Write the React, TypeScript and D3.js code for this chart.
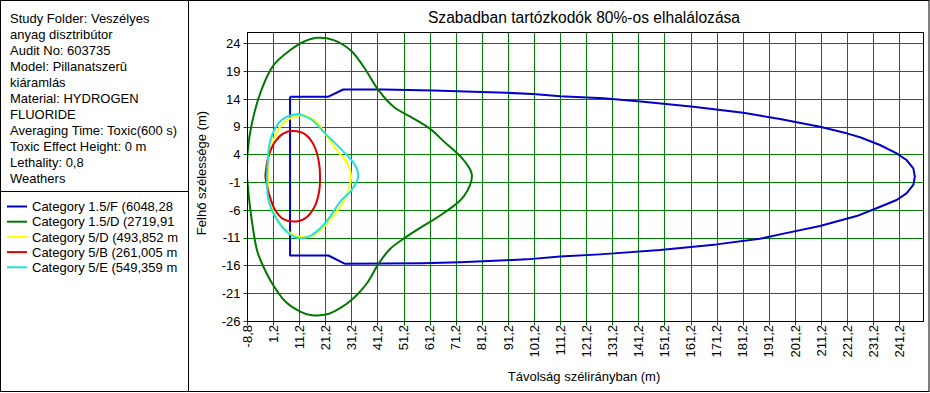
import React, { useEffect } from 'react'
import * as d3 from 'd3'

// info panel text (as shown in the picture)
const infoLines = [
  'Study Folder: Veszélyes',
  'anyag disztribútor',
  'Audit No: 603735',
  'Model: Pillanatszerû',
  'kiáramlás',
  'Material: HYDROGEN',
  'FLUORIDE',
  'Averaging Time: Toxic(600 s)',
  'Toxic Effect Height: 0 m',
  'Lethality: 0,8',
  'Weathers',
]

const categories = [
  'Category 1.5/F (6048,28',
  'Category 1.5/D (2719,91',
  'Category 5/D (493,852 m',
  'Category 5/B (261,005 m',
  'Category 5/E (549,359 m',
]
const colors = ['#0000c8', '#007800', '#ffff00', '#e00000', '#20e0e0']

const xTicks = [-8.8, 1.2, 11.2, 21.2, 31.2, 41.2, 51.2, 61.2, 71.2, 81.2, 91.2, 101.2, 111.2, 121.2,
  131.2, 141.2, 151.2, 161.2, 171.2, 181.2, 191.2, 201.2, 211.2, 221.2, 231.2, 241.2]
const yTicks = [24, 19, 14, 9, 4, -1, -6, -11, -16, -21, -26]

// footprint outlines, [downwind distance, crosswind width]
const cat15F: [number, number][] = [
  [7.7, 14.4], [22.4, 14.4], [28.1, 15.7], [43.5, 15.7], [62.6, 15.5], [78.0, 15.3], [90.7, 15.1],
  [100.9, 14.9], [111.2, 14.5], [127.8, 14.1], [143.1, 13.5], [162.3, 12.6], [181.4, 11.5],
  [195.5, 10.4], [210.8, 9.0], [221.1, 7.8], [226.2, 7.1], [233.8, 5.7], [240.2, 4.2], [244.0, 3.0],
  [246.6, 1.5], [247.2, 0.0], [246.6, -1.5], [244.0, -3.0], [240.2, -4.2], [232.5, -5.7],
  [224.9, -7.1], [210.8, -8.9], [195.5, -10.4], [187.8, -11.2], [171.2, -12.2], [149.5, -13.2],
  [126.5, -14.0], [111.2, -14.4], [98.4, -14.9], [88.2, -15.1], [72.8, -15.4], [58.2, -15.6],
  [28.8, -15.7], [22.4, -14.2], [7.7, -14.2], [7.7, 14.4],
]
const cat15D: [number, number][] = [
  [-8.8, 0], [-8.6, 4.2], [-7.2, 9.0], [-3.3, 15.6], [1.4, 20.1], [7.8, 22.8], [12.9, 24.3],
  [18.0, 25.0], [24.4, 24.6], [30.8, 22.8], [35.9, 19.8], [41.6, 15.6], [47.4, 12.6], [53.8, 10.8],
  [61.4, 8.6], [66.5, 6.4], [74.2, 3.0], [77.4, 0.3], [74.2, -3.6], [66.5, -6.6], [56.3, -9.6],
  [50.5, -11.4], [46.1, -13.0], [41.6, -15.7], [37.2, -19.2], [32.0, -21.9], [26.9, -23.7],
  [21.9, -24.8], [15.5, -24.9], [11.6, -24.3], [5.9, -22.5], [0.8, -19.2], [-3.1, -15.6],
  [-5.0, -13.2], [-7.5, -6.0], [-8.8, 0],
]
const cat5D: [number, number][] = [
  [12.8, 11.1], [17.5, 10.0], [21.5, 7.5], [25.5, 4.8], [29.5, 2.5], [31.1, 0], [30.0, -2.5],
  [27.5, -5.0], [23.5, -7.5], [18.5, -10.0], [14.0, -10.9], [9.0, -10.5], [4.5, -8.8], [1.2, -6.2],
  [-0.4, -3.2], [-0.8, 0], [-0.3, 3.5], [1.5, 6.8], [4.5, 9.3], [8.5, 10.7], [12.8, 11.1],
]
const cat5B: [number, number][] = [
  [-1.8, 0], [-0.6, 3.6], [2.0, 6.3], [5.2, 7.8], [9.0, 8.2], [13.5, 7.6], [17.0, 5.5], [18.8, 2.5],
  [19.2, 0], [18.8, -2.8], [17.0, -5.5], [13.5, -7.5], [9.0, -8.1], [5.0, -7.6], [2.0, -6.0],
  [-0.3, -3.2], [-1.8, 0],
]
const cat5E: [number, number][] = [
  [11.0, 11.3], [16.1, 10.2], [21.1, 7.8], [28.8, 4.2], [32.6, 2.1], [33.8, 0], [31.3, -2.4],
  [27.5, -4.2], [21.1, -8.4], [16.1, -10.5], [11.5, -11.1], [7.1, -10.2], [2.0, -7.2], [-0.6, -4.2],
  [-1.1, -0.6], [-0.8, 3.0], [0, 6.3], [3.2, 9.6], [6.5, 10.8], [11.0, 11.3],
]
const series = [cat15F, cat15D, cat5D, cat5B, cat5E]

const title = 'Szabadban tartózkodók 80%-os elhalálozása'
const xTitle = 'Távolság szélirányban (m)'
const yTitle = 'Felhő szélessége (m)'

const W = 930
const H = 393
const font = 'Arial, "Liberation Sans", sans-serif'

export default function App() {
  useEffect(() => {
    document.body.style.margin = '0'
  }, [])

  const x = d3.scaleLinear().domain([-8.8, 250.2]).range([247, 922.7])
  const y = d3.scaleLinear().domain([-26, 26]).range([321, 32.3])
  const snap = (v: number) => Math.round(v) + 0.5

  const straight = d3.line<[number, number]>()
    .x(d => x(d[0]))
    .y(d => y(d[1]))
  const smooth = d3.line<[number, number]>()
    .x(d => x(d[0]))
    .y(d => y(d[1]))
    .curve(d3.curveCatmullRom.alpha(0.5))

  const left = snap(x(-8.8))
  const right = snap(922.7)
  const top = snap(32.3)
  const bottom = snap(321)

  return (
    <svg width={W} height={H} style={{ position: 'absolute', left: 0, top: 0, background: '#fff' }}
      fontFamily={font}>
      <defs>
        <clipPath id="infoClip"><rect x={1} y={1} width={187} height={390} /></clipPath>
        <clipPath id="plotClip"><rect x={left} y={top} width={right - left} height={bottom - top} /></clipPath>
      </defs>
      <rect x={0.5} y={0.5} width={W - 1.5} height={H - 2} fill="#fff" stroke="#000" />
      <line x1={188.5} x2={188.5} y1={0} y2={392} stroke="#000" />
      <line x1={0} x2={188.5} y1={191.5} y2={191.5} stroke="#000" />

      <g clipPath="url(#infoClip)" fontSize={13} fill="#000">
        {infoLines.map((t, i) => (
          <text key={t} x={10} y={22.5 + i * 16}>{t}</text>
        ))}
        {categories.map((c, i) => (
          <g key={c} transform={`translate(0,${206.5 + i * 15.2})`}>
            <line x1={7} x2={27} y1={0} y2={0} stroke={colors[i]} strokeWidth={2} />
            <text x={32} y={4.6}>{c}</text>
          </g>
        ))}
      </g>

      <text x={584} y={22.5} textAnchor="middle" fontSize={15.6}>{title}</text>

      {/* grid */}
      {yTicks.map(t => (
        <g key={'y' + t}>
          <line x1={left} x2={right} y1={snap(y(t))} y2={snap(y(t))} stroke="#008000" />
          <line x1={left - 4} x2={left} y1={snap(y(t))} y2={snap(y(t))} stroke="#006000" />
          <text x={240.5} y={y(t)} dy="0.36em" textAnchor="end" fontSize={13}>{t}</text>
        </g>
      ))}
      {xTicks.map(t => (
        <g key={'x' + t}>
          <line x1={snap(x(t))} x2={snap(x(t))} y1={top} y2={bottom} stroke="#008000" />
          <line x1={snap(x(t))} x2={snap(x(t))} y1={bottom} y2={bottom + 4} stroke="#006000" />
          <text transform={`translate(${x(t)},325) rotate(-90)`} dy="0.36em" textAnchor="end"
            fontSize={13}>{String(t).replace('.', ',')}</text>
        </g>
      ))}

      <g clipPath="url(#plotClip)" fill="none" strokeWidth={2} strokeLinejoin="round">
        {series.map((s, i) => (
          <path key={i} d={(i === 0 ? straight(s) : smooth(s)) || ''} stroke={colors[i]} />
        ))}
      </g>
      <rect x={left} y={top} width={right - left} height={bottom - top} fill="none" stroke="#000" />

      <text x={584} y={381} textAnchor="middle" fontSize={13}>{xTitle}</text>
      <text transform="translate(206,173) rotate(-90)" textAnchor="middle" fontSize={13}>{yTitle}</text>
    </svg>
  )
}
